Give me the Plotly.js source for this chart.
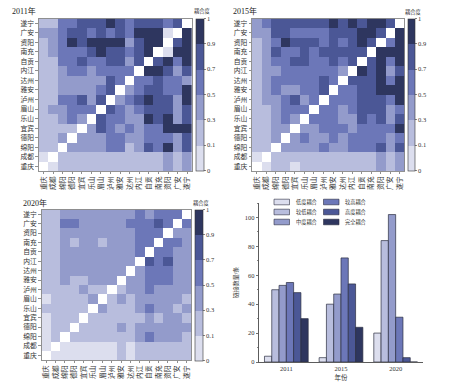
<!DOCTYPE html>
<html><head><meta charset="utf-8">
<script src="https://cdn.plot.ly/plotly-3.0.1.min.js"></script>
<style>html,body{margin:0;padding:0;background:#fff}#chart{width:456px;height:382px}</style>
</head><body><div id="chart"></div>
<script>
// ---------- data ----------
const CITIES_X = ['重庆','成都','绵阳','德阳','宜宾','乐山','眉山','泸州','雅安','达州','内江','自贡','南充','资阳','广安','遂宁'];
const CITIES_Y = ['遂宁','广安','资阳','南充','自贡','内江','达州','雅安','泸州','眉山','乐山','宜宾','德阳','绵阳','成都','重庆']; // top -> bottom

// coupling class of each cell (0..5), rows top -> bottom, null = diagonal
const Z2011 = [
[1,1,3,3,4,4,4,5,4,3,4,4,4,3,4,null],
[2,2,3,4,4,3,4,3,4,3,5,5,5,0,null,5],
[1,2,3,5,4,5,5,5,5,2,4,5,5,null,4,5],
[1,2,3,3,3,4,5,4,4,3,4,5,null,0,5,5],
[1,1,3,3,4,3,3,4,4,2,4,null,4,5,3,5],
[1,1,2,3,3,2,3,3,3,3,null,5,5,4,2,4],
[1,1,2,2,2,2,2,4,3,null,3,3,4,3,3,2],
[1,1,2,2,2,2,3,4,null,2,3,4,4,3,3,5],
[1,1,3,3,4,2,4,null,2,3,4,5,4,4,2,5],
[1,2,2,3,3,3,null,4,3,2,3,4,4,4,2,4],
[1,1,2,3,2,null,4,3,3,2,2,5,4,5,2,4],
[1,1,1,1,null,2,4,3,2,3,2,3,3,5,5,5],
[1,1,2,null,2,2,2,3,3,2,2,3,3,3,2,4],
[1,1,null,2,2,2,2,3,3,1,2,4,3,5,2,4],
[0,null,1,1,1,1,1,1,1,1,1,1,1,2,1,2],
[null,0,1,1,1,1,1,1,1,1,1,1,1,2,1,2]
];
const Z2015 = [
[2,3,4,4,4,4,4,4,5,4,5,4,5,5,4,null],
[2,2,4,4,3,3,3,3,4,4,4,5,5,4,null,5],
[1,2,3,5,4,4,4,3,4,3,4,5,4,null,3,5],
[1,2,4,3,3,4,3,4,4,4,4,4,null,5,5,5],
[1,2,3,3,4,4,3,3,4,3,4,null,4,5,3,5],
[1,2,2,3,3,3,3,3,3,2,null,5,4,5,2,4],
[1,2,3,3,3,3,3,4,3,null,4,4,4,5,3,5],
[1,2,3,2,2,3,3,4,null,3,3,4,4,5,5,5],
[1,2,2,3,4,2,3,null,3,3,3,4,4,4,3,5],
[1,1,2,3,3,3,null,3,3,2,3,4,4,4,2,3],
[1,1,2,3,2,null,3,3,3,2,2,4,3,4,2,4],
[1,1,2,2,null,2,2,3,3,3,2,3,3,3,3,5],
[1,1,2,null,2,3,2,2,3,2,3,3,3,3,2,3],
[1,1,null,2,2,2,2,3,2,2,3,3,3,4,2,4],
[0,null,1,1,1,1,1,1,1,1,1,1,1,2,1,2],
[null,0,1,1,0,1,1,1,1,1,1,1,1,2,1,2]
];
const Z2020 = [
[1,1,2,2,2,2,2,2,2,2,3,2,3,3,3,null],
[1,1,3,3,2,2,2,2,2,3,3,3,4,3,null,3],
[1,1,2,2,2,2,2,2,2,2,3,3,3,null,2,2],
[1,1,2,1,2,2,1,2,2,2,3,3,null,3,3,2],
[1,1,2,2,2,2,2,2,2,2,3,null,3,3,2,2],
[1,1,2,2,2,2,2,2,2,2,null,4,3,4,2,2],
[1,1,2,2,2,2,2,2,2,null,2,3,3,3,2,2],
[1,1,2,1,1,2,2,2,null,2,2,3,3,3,2,2],
[1,1,1,1,2,1,1,null,1,2,2,3,2,2,2,2],
[0,1,1,1,1,2,null,1,2,1,2,2,2,2,2,1],
[1,1,1,1,1,null,2,1,1,1,2,3,2,2,1,2],
[0,1,1,1,null,1,1,1,1,1,1,2,1,2,2,1],
[0,1,1,null,1,1,1,1,2,1,2,2,2,2,2,2],
[0,1,null,1,1,1,1,1,1,1,2,3,2,2,2,1],
[0,null,0,0,0,0,0,0,1,0,1,1,1,1,1,1],
[null,0,0,0,0,0,0,0,1,0,1,1,1,1,1,1]
];

const CLASS_BOUNDS = ['0','0.1','0.3','0.5','0.7','0.9','1'];
const CLASS_NAMES = ['低度耦合','较低耦合','中度耦合','较高耦合','高度耦合','完全耦合'];
const CLASS_COLORS = ['#dcdeee','#b8bddd','#939bcb','#6c77b8','#4b5796','#2e365f'];

const YEARS = ['2011','2015','2020'];
const N_LOW    = [4, 3, 20];
const N_LOWER  = [50, 40, 84];
const N_MID    = [53, 47, 102];
const N_HIGHER = [55, 72, 31];
const N_HIGH   = [48, 54, 3];
const N_FULL   = [30, 24, 0];
const SERIES = [N_LOW, N_LOWER, N_MID, N_HIGHER, N_HIGH, N_FULL];

// ---------- layout helpers ----------
const W = 456, H = 382;
const px = v => v / W;
const py = v => 1 - v / H;
const FONT = 'Liberation Serif, Noto Sans CJK SC, serif';
const TXT = '#333';

const colorscale = [];
CLASS_COLORS.forEach((c, i) => { colorscale.push([i / 6, c]); colorscale.push([(i + 1) / 6, c]); });
const tickv = CLASS_BOUNDS.map((_, i) => i - 0.5);

function heat(z, xa, ya, cbx, cbTop, cbBot, thick) {
  return {
    type: 'heatmap', z: z, x: CITIES_X, y: CITIES_Y, xaxis: xa, yaxis: ya,
    zmin: -0.5, zmax: 5.5, colorscale: colorscale, hoverongaps: false, hoverinfo: 'skip',
    colorbar: {
      x: px(cbx), xanchor: 'left', xpad: 0, y: py((cbTop + cbBot) / 2), yanchor: 'middle', ypad: 0,
      len: (cbBot - cbTop) / H, lenmode: 'fraction', thickness: thick, thicknessmode: 'pixels',
      outlinewidth: 0.6, outlinecolor: '#333', borderwidth: 0,
      tickvals: tickv, ticktext: CLASS_BOUNDS, ticks: 'outside', ticklen: 2, tickwidth: 0.6, tickcolor: '#333',
      tickfont: { size: 6.5, color: TXT, family: FONT }
    }
  };
}
function hx(d, anchor) {
  return { domain: d, anchor: anchor, type: 'category', tickangle: -90, ticks: 'outside', ticklen: 2, tickwidth: 0.6,
    tickcolor: '#444', showline: true, mirror: true, linecolor: '#777', linewidth: 0.8, showgrid: false, zeroline: false,
    tickfont: { size: 6.8, family: FONT, color: TXT }, fixedrange: true, automargin: false };
}
function hy(d, anchor) {
  return { domain: d, anchor: anchor, type: 'category', autorange: 'reversed', ticks: 'outside', ticklen: 2.5, tickwidth: 0.6,
    tickcolor: '#444', showline: true, mirror: true, linecolor: '#777', linewidth: 0.8, showgrid: false, zeroline: false,
    tickfont: { size: 6.8, family: FONT, color: TXT }, fixedrange: true, automargin: false };
}

const traces = [
  heat(Z2011, 'x', 'y', 196, 18.3, 170.7, 8),
  heat(Z2015, 'x2', 'y2', 408.3, 18.3, 170.7, 7),
  heat(Z2020, 'x3', 'y3', 195, 209.5, 360.5, 8)
];
CLASS_NAMES.forEach((n, i) => {
  traces.push({ type: 'bar', name: n, x: YEARS, y: SERIES[i], xaxis: 'x4', yaxis: 'y4', showlegend: false,
    marker: { color: CLASS_COLORS[i], line: { color: '#2b2e40', width: 0.7 } }, hoverinfo: 'skip' });
});

// manual legend (2 columns, column-major)
const shapes = [], annotations = [];
const legCols = [274, 323.5], legRows = [202, 212, 222];
CLASS_NAMES.forEach((n, i) => {
  const c = Math.floor(i / 3), r = i % 3;
  const x0 = legCols[c], yc = legRows[r];
  shapes.push({ type: 'rect', xref: 'paper', yref: 'paper', x0: px(x0), x1: px(x0 + 15.5), y0: py(yc + 2.8), y1: py(yc - 2.8),
    fillcolor: CLASS_COLORS[i], line: { color: '#2b2e40', width: 0.6 } });
  annotations.push({ xref: 'paper', yref: 'paper', x: px(x0 + 19.5), y: py(yc), xanchor: 'left', yanchor: 'middle',
    text: n, showarrow: false, font: { size: 5.2, family: FONT, color: TXT } });
});
const titles = [['2011年', 10, 10.5], ['2015年', 231, 10.5], ['2020年', 21, 202.5]];
titles.forEach(t => annotations.push({ xref: 'paper', yref: 'paper', x: px(t[1]), y: py(t[2]), xanchor: 'left', yanchor: 'middle',
  text: t[0], showarrow: false, font: { size: 8, family: FONT, color: '#222' } }));
[[202, 11.5], [412.5, 12], [201, 202.5]].forEach(p => annotations.push({ xref: 'paper', yref: 'paper', x: px(p[0]), y: py(p[1]),
  xanchor: 'center', yanchor: 'middle', text: '耦合度', showarrow: false, font: { size: 5.2, family: FONT, color: TXT } }));

const layout = {
  width: W, height: H, margin: { l: 0, r: 0, t: 0, b: 0, pad: 0 },
  paper_bgcolor: '#fff', plot_bgcolor: '#fff', showlegend: false,
  font: { family: FONT, color: TXT },
  barmode: 'group', bargap: 0.2, bargroupgap: 0,
  xaxis: hx([px(38.7), px(192)], 'y'), yaxis: hy([py(171), py(18.5)], 'x'),
  xaxis2: hx([px(252), px(404.5)], 'y2'), yaxis2: hy([py(171), py(18.5)], 'x2'),
  xaxis3: hx([px(41.5), px(191.3)], 'y3'), yaxis3: hy([py(360), py(209.5)], 'x3'),
  xaxis4: { domain: [px(259), px(423)], anchor: 'y4', type: 'category', range: [-0.5, 2.5], showline: true, linecolor: '#333',
    linewidth: 0.8, ticks: '', showgrid: false, zeroline: false, tickfont: { size: 6.5, family: FONT, color: TXT },
    title: { text: '年份', font: { size: 6.5, family: FONT, color: TXT }, standoff: 4 }, fixedrange: true },
  yaxis4: { domain: [py(362), py(203)], anchor: 'x4', range: [0, 110], dtick: 20, showline: true, linecolor: '#333', linewidth: 0.8,
    ticks: 'outside', ticklen: 2.5, tickwidth: 0.7, tickcolor: '#333', showgrid: false, zeroline: false,
    minor: { dtick: 10, ticks: 'outside', ticklen: 1.5, tickwidth: 0.6, tickcolor: '#333', showgrid: false },
    tickfont: { size: 6.5, family: FONT, color: TXT },
    title: { text: '链接数量/条', font: { size: 6, family: FONT, color: TXT }, standoff: 5 }, fixedrange: true },
  shapes: shapes, annotations: annotations
};
Plotly.newPlot('chart', traces, layout, { displayModeBar: false, staticPlot: true });
</script></body></html>
